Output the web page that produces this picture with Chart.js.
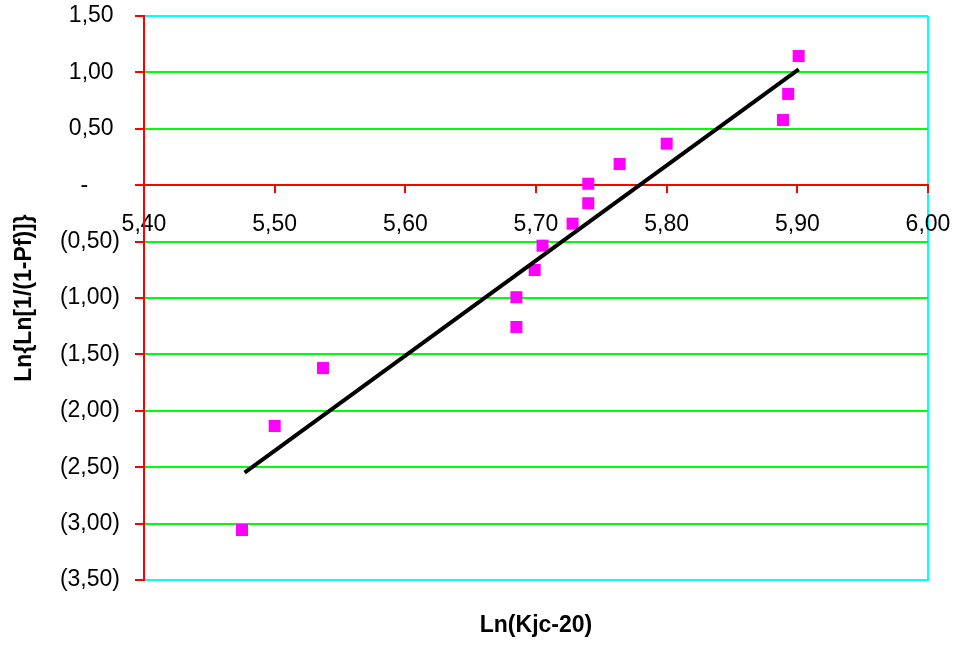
<!DOCTYPE html>
<html>
<head>
<meta charset="utf-8">
<script src="https://cdn.jsdelivr.net/npm/chart.js@4.4.0/dist/chart.umd.min.js"></script>
<style>
	body {margin: 0; background: #fff;}
	#wrap {width: 959px; height: 646px; position: relative;}
</style>
</head>
<body>
<div id="wrap"><canvas id="myChart"></canvas></div>
<script>
// measured points: Ln(Kjc-20) against Ln{Ln[1/(1-Pf)]}
var lnKjc = [5.475, 5.5, 5.537, 5.685, 5.685, 5.699, 5.705, 5.728, 5.74, 5.74, 5.764, 5.8, 5.889, 5.893, 5.901]
var lnLnPf = [-3.057, -2.135, -1.621, -1.257, -0.993, -0.752, -0.536, -0.341, -0.16, 0.013, 0.188, 0.368, 0.578, 0.809, 1.145]

// fitted straight line (end points)
var fitX = [5.477, 5.901]
var fitY = [-2.549, 1.027]

// axis ticks
var xTicks = [5.4, 5.5, 5.6, 5.7, 5.8, 5.9, 6.0]
var yTicks = [1.5, 1.0, 0.5, 0, -0.5, -1.0, -1.5, -2.0, -2.5, -3.0, -3.5]

var font = "'Liberation Sans', Arial, sans-serif"

function pairs(xs, ys) {
	return xs.map(function (x, i) {
		return {x: x, y: ys[i]}
	})
}

function fmtY(v) {
	if (Math.abs(v) < 1e-9) return "-     "
	var s = Math.abs(v).toFixed(2).replace(".", ",")
	return v < 0 ? "(" + s + ")" : s + " "
}

var ctx = document.getElementById("myChart").getContext("2d")
var myChart = new Chart(ctx, {
	type: "scatter",
	data: {
		datasets: [
			{
				data: pairs(lnKjc, lnLnPf),
				xAxisID: "x",
				yAxisID: "y",
				pointStyle: "rect",
				pointRadius: 8.5,
				pointHoverRadius: 8.5,
				backgroundColor: "#ff00ff",
				borderColor: "#ff00ff",
				borderWidth: 0,
				order: 2,
			},
			{
				data: pairs(fitX, fitY),
				xAxisID: "x",
				yAxisID: "y",
				showLine: true,
				pointRadius: 0,
				borderColor: "#000",
				borderWidth: 4,
				order: 1,
			},
		],
	},
	options: {
		responsive: true,
		maintainAspectRatio: false,
		animation: false,
		layout: {padding: {left: 0, top: 16, right: 31, bottom: 0}},
		scales: {
			x: {
				type: "linear",
				position: {y: 0},
				min: 5.4,
				max: 6.0,
				afterBuildTicks: function (scale) {
					scale.ticks = xTicks.map(function (v) {
						return {value: v}
					})
				},
				afterFit: function (scale) {
					scale.paddingLeft = 0
					scale.paddingRight = 0
				},
				ticks: {
					padding: 19,
					maxRotation: 0,
					color: "#000",
					font: {family: font, size: 23},
					callback: function (v) {
						return Number(v).toFixed(2).replace(".", ",")
					},
				},
				grid: {
					lineWidth: 2,
					color: function (c) {
						return c.tick && Math.abs(c.tick.value - 6) < 1e-9 ? "#00ffff" : "rgba(0,0,0,0)"
					},
					tickColor: "#ff0000",
					tickLength: 7,
				},
				border: {color: "#ff0000", width: 2},
			},
			xb: {
				type: "linear",
				position: "bottom",
				min: 5.4,
				max: 6.0,
				afterFit: function (scale) {
					scale.height = 66
					scale.paddingLeft = 0
					scale.paddingRight = 0
				},
				ticks: {display: false},
				grid: {display: false},
				border: {color: "#00ffff", width: 2},
				title: {
					display: true,
					text: "Ln(Kjc-20)",
					color: "#000",
					font: {family: font, size: 23, weight: "bold"},
					padding: {top: 0, bottom: 7},
				},
			},
			y: {
				type: "linear",
				position: "left",
				min: -3.5,
				max: 1.5,
				afterFit: function (scale) {
					scale.width = 144
					scale.paddingTop = 0
					scale.paddingBottom = 0
				},
				afterBuildTicks: function (scale) {
					scale.ticks = yTicks.map(function (v) {
						return {value: v}
					})
				},
				ticks: {
					padding: 15,
					color: "#000",
					font: {family: font, size: 23},
					callback: function (v) {
						return fmtY(v)
					},
				},
				grid: {
					lineWidth: 2,
					color: function (c) {
						if (!c.tick) return "#00ff00"
						var v = c.tick.value
						if (Math.abs(v) < 1e-9) return "#ff0000"
						if (Math.abs(v - 1.5) < 1e-9 || Math.abs(v + 3.5) < 1e-9) return "#00ffff"
						return "#00ff00"
					},
					tickColor: "#ff0000",
					tickLength: 9,
				},
				border: {color: "#ff0000", width: 2},
				title: {
					display: true,
					text: "Ln{Ln[1/(1-Pf)]}",
					color: "#000",
					font: {family: font, size: 23, weight: "bold"},
					padding: {top: 11, bottom: 0},
				},
			},
		},
		plugins: {
			legend: {display: false},
			tooltip: {enabled: false},
		},
	},
})
</script>
</body>
</html>
